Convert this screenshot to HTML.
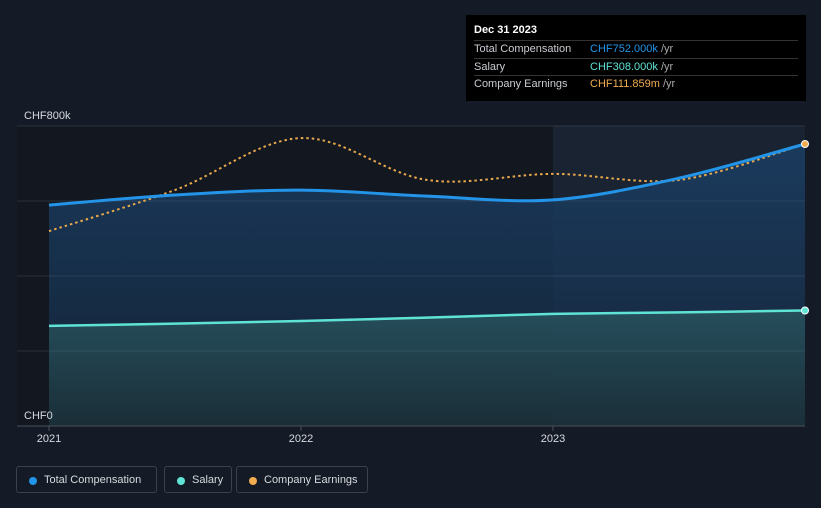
<!DOCTYPE html>
<html><head><meta charset="utf-8"><style>
body{margin:0;background:#151b26;font-family:"Liberation Sans",sans-serif;}
#wrap{position:relative;width:821px;height:508px;overflow:hidden;background:#151b26}
.tt{position:absolute;left:466px;top:15px;width:340px;height:86px;background:#000;color:#fff;font-size:11px}
.tt .row{position:absolute;left:8px;right:8px;height:17px;border-top:1px solid #333;line-height:17px;color:#c9ccd2}
.leg{position:absolute;top:466px;height:27px;border:1px solid #3a414d;border-radius:3px;color:#d6d9de;font-size:11px;line-height:27px;box-sizing:border-box;padding-left:27px}
.leg i{position:absolute;left:12px;top:10px;width:8px;height:8px;border-radius:50%}
</style></head><body>
<div id="wrap">
<svg id="chart" width="821" height="508" style="position:absolute;left:0;top:0">
<defs>
<linearGradient id="gTot" x1="0" y1="0" x2="0" y2="1"><stop offset="0" stop-color="#1a4068"/><stop offset="1" stop-color="#15263a"/></linearGradient>
<linearGradient id="gSal" x1="0" y1="0" x2="0" y2="1"><stop offset="0" stop-color="#28545f"/><stop offset="1" stop-color="#1b3038"/></linearGradient>
</defs>
<rect x="17" y="126" width="536" height="300" fill="#131820"/>
<rect x="553" y="126" width="252" height="300" fill="#1a2331"/>
<g id="areas"></g><g id="grid"></g><g id="lines"></g><g id="labels"></g>
</svg>
<div class="tt">
<div style="position:absolute;left:8px;top:9px;font-weight:bold;color:#fff">Dec 31 2023</div>
<div class="row" style="top:25px">Total Compensation<span style="position:absolute;left:116px;color:#2394e8">CHF752.000k <span style="color:#aaa">/yr</span></span></div>
<div class="row" style="top:43px">Salary<span style="position:absolute;left:116px;color:#5fe3d4">CHF308.000k <span style="color:#aaa">/yr</span></span></div>
<div class="row" style="top:60px">Company Earnings<span style="position:absolute;left:116px;color:#f0ac4e">CHF111.859m <span style="color:#aaa">/yr</span></span></div>
</div>
<div class="leg" style="left:16px;width:141px"><i style="background:#2394e8"></i>Total Compensation</div>
<div class="leg" style="left:164px;width:68px"><i style="background:#5fe3d4"></i>Salary</div>
<div class="leg" style="left:236px;width:132px"><i style="background:#f0ac4e"></i>Company Earnings</div>
</div>
<script>
const years=[2021.0,2021.5,2022.0,2022.5,2023.0,2023.5,2024.0];
const totalComp=[589,616,629,613,603,661,752];
const salary=[267,273,280,289,299,303,308];
const earnings=[77.3,93.6,114.2,97.6,100,97.6,111.859];
const yTicks=[0,200,400,600,800];
const xTicks=[2021,2022,2023];
const xTickLabels=["2021","2022","2023"];
const NS="http://www.w3.org/2000/svg";
const x=v=>49+(v-2021)*252;
const y=v=>426-v*0.375;
const ye=v=>y(v/111.859*752);
function mk(t,a,p){const e=document.createElementNS(NS,t);for(const k in a)e.setAttribute(k,a[k]);p.appendChild(e);return e;}
function path(xs,ys){const P=xs.map((v,i)=>[v,ys[i]]);let d="M"+P[0][0]+","+P[0][1];
for(let i=0;i<P.length-1;i++){const p0=P[Math.max(0,i-1)],p1=P[i],p2=P[i+1],p3=P[Math.min(P.length-1,i+2)];
d+=" C"+(p1[0]+(p2[0]-p0[0])/6)+","+(p1[1]+(p2[1]-p0[1])/6)+" "+(p2[0]-(p3[0]-p1[0])/6)+","+(p2[1]-(p3[1]-p1[1])/6)+" "+p2[0]+","+p2[1];}return d;}
const G=document.getElementById('grid'),A=document.getElementById('areas'),L=document.getElementById('lines'),T=document.getElementById('labels');
yTicks.forEach(t=>{const l=mk('line',{x1:17,x2:805,y1:y(t),y2:y(t),stroke:t==0?'#4a505a':'rgba(120,130,145,0.22)','stroke-width':1},G);

});
const yl1=mk('text',{x:24,y:119,fill:'#d6d9de','font-size':11},T);yl1.textContent='CHF800k';


const yl0=mk('text',{x:24,y:419,fill:'#d6d9de','font-size':11},T);yl0.textContent='CHF0';


xTicks.forEach((t,i)=>{const e=mk('text',{x:x(t),y:442,fill:'#d6d9de','font-size':11,'text-anchor':'middle'},T);e.textContent=xTickLabels[i];


const tk=mk('line',{x1:x(t),x2:x(t),y1:426,y2:431,stroke:'#4a505a'},G);

});
const xs=years.map(x);
const dT=path(xs,totalComp.map(y)),dS=path(xs,salary.map(y)),dE=path(xs,earnings.map(ye));
const aT=mk('path',{d:dT+" L"+xs[xs.length-1]+",426 L"+xs[0]+",426Z",fill:'url(#gTot)',opacity:0.8},A);


const aS=mk('path',{d:dS+" L"+xs[xs.length-1]+",426 L"+xs[0]+",426Z",fill:'url(#gSal)',opacity:0.85},A);


const lE=mk('path',{d:dE,fill:'none',stroke:'#e9a84c','stroke-width':2,'stroke-dasharray':'2.5 3'},L);


const lT=mk('path',{d:dT,fill:'none',stroke:'#2394e8','stroke-width':3},L);


const lS=mk('path',{d:dS,fill:'none',stroke:'#5fe3d4','stroke-width':2.5},L);


const n=years.length-1;
const p1=mk('circle',{cx:xs[n],cy:y(salary[n]),r:3.5,fill:'#5fe3d4',stroke:'#fff','stroke-width':1},L);


const p2=mk('circle',{cx:xs[n],cy:ye(earnings[n]),r:3.5,fill:'#f0ac4e',stroke:'#fff','stroke-width':1},L);


</script>
</body></html>
